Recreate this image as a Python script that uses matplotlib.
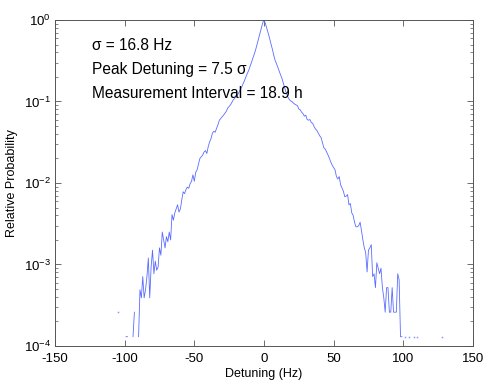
import matplotlib
matplotlib.use("Agg")
import matplotlib.pyplot as plt
import numpy as np

plt.rcParams["font.family"] = ["Liberation Sans", "DejaVu Sans"]
plt.rcParams["mathtext.default"] = "regular"

# detuning bins (Hz), 1 Hz wide, from -105 to 128
detuning_hz = np.arange(-105, 129)

# relative probability (0 = empty bin)
rel_prob = [
    2.6e-4, 0, 0, 0, 0, 0, 1.3e-4, 1.3e-4, 0, 0,                              # -105
    0, 1.3e-4, 2.6e-4, 0, 0, 1.3e-4, 4.9e-4, 3.9e-4, 7.1e-4, 3.9e-4,          # -95
    4.9e-4, 7.1e-4, 1.2e-3, 3.9e-4, 9.3e-4, 1.5e-3, 7.7e-4, 1.1e-3, 8.5e-4, 9.3e-4,   # -85
    1.6e-3, 1.3e-3, 2.5e-3, 2.0e-3, 1.6e-3, 2.2e-3, 1.9e-3, 2.5e-3, 2.0e-3, 4.1e-3,   # -75
    3.5e-3, 4.3e-3, 4.8e-3, 5.4e-3, 4.4e-3, 4.8e-3, 6.2e-3, 7.8e-3, 7.4e-3, 8.3e-3,   # -65
    8.9e-3, 8.6e-3, 9.8e-3, 1.05e-2, 1.26e-2, 1.05e-2, 1.35e-2, 1.45e-2, 1.7e-2, 2.0e-2,  # -55
    2.1e-2, 2.2e-2, 2.4e-2, 2.5e-2, 2.3e-2, 2.8e-2, 3.2e-2, 3.5e-2, 4.1e-2, 4.3e-2,   # -45
    4.2e-2, 4.7e-2, 5.2e-2, 5.9e-2, 6.2e-2, 6.5e-2, 6.8e-2, 7.2e-2, 7.6e-2, 8.3e-2,   # -35
    8.7e-2, 9.1e-2, 9.8e-2, 0.105, 0.11, 0.115, 0.12, 0.13, 0.14, 0.15,      # -25
    0.165, 0.18, 0.2, 0.22, 0.24, 0.27, 0.30, 0.34, 0.38, 0.43,              # -15
    0.5, 0.58, 0.68, 0.79, 0.91, 1.0, 0.91, 0.79, 0.69, 0.60,                # -5
    0.51, 0.44, 0.37, 0.32, 0.29, 0.26, 0.235, 0.21, 0.19, 0.165,            # 5
    0.145, 0.127, 0.115, 0.107, 0.102, 0.1, 0.096, 0.093, 0.091, 8.9e-2,     # 15
    8.1e-2, 7.9e-2, 7.4e-2, 7.1e-2, 6.6e-2, 6.8e-2, 6.0e-2, 5.9e-2, 6.0e-2, 5.5e-2,   # 25
    5.4e-2, 4.9e-2, 4.6e-2, 4.4e-2, 4.1e-2, 3.8e-2, 3.6e-2, 3.1e-2, 2.7e-2, 2.6e-2,   # 35
    2.4e-2, 2.2e-2, 2.0e-2, 1.8e-2, 1.65e-2, 1.55e-2, 1.45e-2, 1.2e-2, 1.12e-2, 1.2e-2,  # 45
    9.5e-3, 8.7e-3, 7.9e-3, 6.8e-3, 6.9e-3, 7.2e-3, 5.4e-3, 5.6e-3, 4.3e-3, 4.0e-3,   # 55
    3.3e-3, 2.9e-3, 2.9e-3, 3.0e-3, 3.3e-3, 2.6e-3, 2.0e-3, 1.6e-3, 1.4e-3, 8.1e-4,   # 65
    1.5e-3, 1.6e-3, 1.75e-3, 7.1e-4, 7.7e-4, 5.2e-4, 1.05e-3, 9.0e-4, 7.7e-4, 9.0e-4,  # 75
    5.2e-4, 3.9e-4, 2.6e-4, 5.2e-4, 5.2e-4, 2.6e-4, 2.6e-4, 5.2e-4, 2.6e-4, 2.6e-4,   # 85
    2.6e-4, 7.7e-4, 6.5e-4, 1.3e-4, 1.3e-4, 0, 1.3e-4, 0, 0, 1.3e-4,          # 95
    0, 0, 0, 1.3e-4, 0, 1.3e-4, 0, 0, 0, 0,                                   # 105
    0, 0, 0, 0, 0, 0, 0, 0, 0, 0,                                             # 115
    0, 0, 0, 1.3e-4,                                                          # 125
]

x_ticks = [-150, -100, -50, 0, 50, 100, 150]
notes = ["\u03c3 = 16.8 Hz", "Peak Detuning = 7.5 \u03c3", "Measurement Interval = 18.9 h"]

y = np.asarray(rel_prob, dtype=float)
x = detuning_hz.astype(float)

fig = plt.figure(figsize=(4.84, 3.80), dpi=100)
ax = fig.add_axes([0.1136, 0.0895, 0.8636, 0.8579])

c_line = "#5a6cff"
ax.plot(x, y, color=c_line, linewidth=0.6)

# bins with no filled neighbour have no segment, show them as dots
yp = np.concatenate([[0], y, [0]])
iso = (y > 0) & (yp[:-2] <= 0) & (yp[2:] <= 0)
ax.plot(x[iso], y[iso], linestyle="none", marker="s", markersize=1.1,
        markeredgewidth=0, color=c_line, alpha=0.7)

ax.set_yscale("log", nonpositive="mask")
ax.set_xlim(-150, 150)
ax.set_ylim(1e-4, 1)
ax.set_xticks(x_ticks)
ax.set_xticklabels([str(t) for t in x_ticks])

ax.tick_params(axis="both", which="both", direction="in", top=True, right=True,
               labelsize=9.5, colors="#000000")
ax.tick_params(which="major", length=4, width=0.6, color="#555555")
ax.tick_params(which="minor", length=2, width=0.5, color="#555555")
ax.tick_params(axis="x", pad=5)
ax.tick_params(axis="y", pad=3)
for s in ax.spines.values():
    s.set_color("#555555")
    s.set_linewidth(0.7)

ax.set_xlabel("Detuning (Hz)", fontsize=9)
ax.xaxis.set_label_coords(0.5, -0.066)
ax.set_ylabel("Relative Probability", fontsize=9)
ax.yaxis.set_label_coords(-0.088, 0.5)

for i, t in enumerate(notes):
    ax.text(0.0885, 0.908 - i * 0.0735, t, transform=ax.transAxes,
            fontsize=11.2, va="baseline", ha="left")

plt.savefig("out.png", dpi=100)
plt.close()
